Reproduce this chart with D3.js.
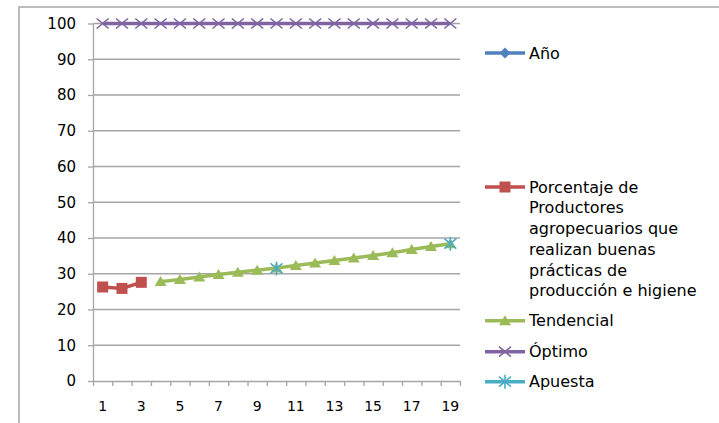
<!DOCTYPE html>
<html>
<head>
<meta charset="utf-8">
<script src="https://cdn.jsdelivr.net/npm/d3@7"></script>
<style>
body { margin: 0; background: #fff; }
text { font-family: "DejaVu Sans", Verdana, sans-serif; fill: #000; }
</style>
</head>
<body>
<svg width="719" height="423"></svg>
<script>
// data
var categories = [1, 2, 3, 4, 5, 6, 7, 8, 9, 10, 11, 12, 13, 14, 15, 16, 17, 18, 19];
var anio = [2012, 2013, 2014, 2015, 2016, 2017, 2018, 2019, 2020, 2021, 2022, 2023, 2024, 2025, 2026, 2027, 2028, 2029, 2030];
var porcentaje = [26.3, 25.9, 27.6, null, null, null, null, null, null, null, null, null, null, null, null, null, null, null, null];
var tendencial = [null, null, null, 27.8, 28.4, 29.1, 29.8, 30.4, 31.0, 31.6, 32.3, 33.0, 33.7, 34.4, 35.1, 35.9, 36.8, 37.6, 38.4];
var optimo = [100, 100, 100, 100, 100, 100, 100, 100, 100, 100, 100, 100, 100, 100, 100, 100, 100, 100, 100];
var apuesta = [null, null, null, null, null, null, null, null, null, 31.5, null, null, null, null, null, null, null, null, 38.4];
var yTicks = [0, 10, 20, 30, 40, 50, 60, 70, 80, 90, 100];
var porcentajeName = ["Porcentaje de", "Productores", "agropecuarios que", "realizan buenas", "prácticas de", "producción e higiene"];

var svg = d3.select("svg"),
    plotLeft = 93, plotRight = 460, plotTop = 23.5, plotBottom = 381,
    gridColor = "#a5a5a5";

var x = d3.scaleBand().domain(categories).range([plotLeft, plotRight]);
var xEdge = d3.scaleLinear().domain([0, categories.length]).range([plotLeft, plotRight]);
var y = d3.scaleLinear().domain([0, 100]).range([plotBottom, plotTop]);

// outer chart frame
svg.append("path")
    .attr("d", "M19,423V7H719")
    .attr("fill", "none")
    .attr("stroke", "#a8a8a8")
    .attr("stroke-width", 1.5);

svg.append("clipPath").attr("id", "plot")
  .append("rect")
    .attr("x", plotLeft - 10).attr("y", plotTop - 10)
    .attr("width", plotRight - plotLeft + 20).attr("height", plotBottom - plotTop + 20);

// gridlines
svg.append("g").selectAll("line")
    .data(yTicks.slice(1))
  .enter().append("line")
    .attr("x1", plotLeft).attr("x2", plotRight)
    .attr("y1", function(d) { return y(d); })
    .attr("y2", function(d) { return y(d); })
    .attr("stroke", gridColor)
    .attr("stroke-width", 1.3);

// y axis
var yAxis = svg.append("g")
    .attr("transform", "translate(" + plotLeft + ",0)")
    .call(d3.axisLeft(y).tickValues(yTicks).tickSize(5).tickPadding(12).tickSizeOuter(0));
yAxis.selectAll("text").style("font-size", "15px");

// x axis: ticks between categories, labels on odd ones
svg.append("g")
    .attr("transform", "translate(0," + plotBottom + ")")
    .call(d3.axisBottom(xEdge).tickValues(d3.range(categories.length + 1)).tickFormat("").tickSize(5).tickSizeOuter(0));
var xLabels = svg.append("g")
    .attr("transform", "translate(0," + plotBottom + ")")
    .call(d3.axisBottom(x).tickSize(0).tickPadding(20)
        .tickFormat(function(d) { return d % 2 === 1 ? d : ""; }));
xLabels.select(".domain").remove();
xLabels.selectAll("text").style("font-size", "14px");

svg.selectAll(".domain, .tick line").attr("stroke", gridColor).attr("stroke-width", 1.3);

// marker shapes
function marker(g, kind, color) {
    if (kind === "square") {
        g.append("rect").attr("x", -5.5).attr("y", -5.5).attr("width", 11).attr("height", 11)
            .attr("fill", color);
    } else if (kind === "triangle") {
        g.append("path").attr("d", "M0,-5.5L6,4.5H-6Z").attr("fill", color);
    } else if (kind === "diamond") {
        g.append("path").attr("d", "M0,-5.5L5.5,0L0,5.5L-5.5,0Z").attr("fill", color);
    } else if (kind === "x") {
        g.append("path").attr("d", "M-6,-5L6,5M-6,5L6,-5")
            .attr("stroke", color).attr("stroke-width", 1.6).attr("fill", "none");
    } else if (kind === "star") {
        g.append("path").attr("d", "M-6,-5L6,5M-6,5L6,-5M0,-7V7")
            .attr("stroke", color).attr("stroke-width", 1.6).attr("fill", "none");
    }
}

var series = [
    { name: "Año", values: anio, color: "#4f81bd", marker: "diamond" },
    { name: porcentajeName.join(" "), values: porcentaje, color: "#c0504d", marker: "square" },
    { name: "Tendencial", values: tendencial, color: "#9bbb59", marker: "triangle" },
    { name: "Óptimo", values: optimo, color: "#8064a2", marker: "x" },
    { name: "Apuesta", values: apuesta, color: "#4bacc6", marker: "star" }
];

var line = d3.line()
    .defined(function(d) { return d.v !== null; })
    .x(function(d) { return x(d.c) + x.bandwidth() / 2; })
    .y(function(d) { return y(d.v); });

var plot = svg.append("g").attr("clip-path", "url(#plot)");

series.forEach(function(s) {
    var pts = categories.map(function(c, i) { return { c: c, v: s.values[i] }; });
    var inRange = pts.filter(function(d) { return d.v !== null && d.v <= 100; });
    if (!inRange.length) return; // Año lies outside the axis range
    plot.append("path")
        .datum(pts)
        .attr("d", line)
        .attr("fill", "none")
        .attr("stroke", s.color)
        .attr("stroke-width", 3.5);
    plot.selectAll(null)
        .data(inRange)
      .enter().append("g")
        .attr("transform", function(d) { return "translate(" + (x(d.c) + x.bandwidth() / 2) + "," + y(d.v) + ")"; })
        .each(function() { marker(d3.select(this), s.marker, s.color); });
});

// legend
var legendY = [53, 187, 320.7, 351.7, 381.7];
var legend = svg.append("g");
series.forEach(function(s, i) {
    var g = legend.append("g").attr("transform", "translate(485," + legendY[i] + ")");
    g.append("line").attr("x1", 0).attr("x2", 40)
        .attr("stroke", s.color).attr("stroke-width", 3.5);
    marker(g.append("g").attr("transform", "translate(20,0)"), s.marker, s.color);
    var lines = i === 1 ? porcentajeName : [s.name];
    var t = g.append("text").style("font-size", "16px");
    lines.forEach(function(l, j) {
        t.append("tspan").attr("x", 44).attr("y", j * 20.7).attr("dy", "0.36em").text(l);
    });
});
</script>
</body>
</html>
